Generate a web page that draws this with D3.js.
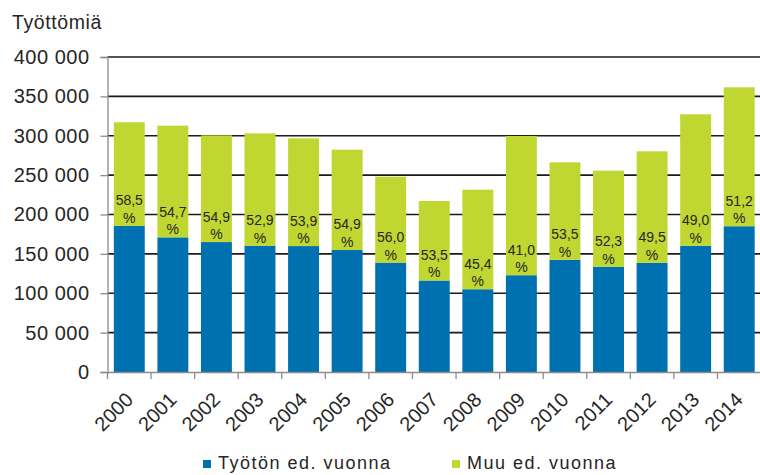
<!DOCTYPE html>
<html>
<head>
<meta charset="utf-8">
<script src="https://cdn.jsdelivr.net/npm/d3@7"></script>
<style>
  html, body { margin: 0; padding: 0; background: #ffffff; }
  svg { display: block; font-family: "Liberation Sans", Arial, sans-serif; }
</style>
</head>
<body>
<svg id="chart" width="760" height="475"></svg>
<script>
const years = ["2000","2001","2002","2003","2004","2005","2006","2007","2008","2009","2010","2011","2012","2013","2014"];
const tyoton = [185500,171000,165000,160300,159900,155000,138900,116200,105100,122900,142400,133700,138700,160300,185100];
const muu = [131600,141800,135500,142800,136800,127300,109100,100900,126400,176800,123800,122000,141500,166900,176400];
const pctLabels = ["58,5","54,7","54,9","52,9","53,9","54,9","56,0","53,5","45,4","41,0","53,5","52,3","49,5","49,0","51,2"];
const yTicks = [0,50000,100000,150000,200000,250000,300000,350000,400000];
const seriesNames = ["Työtön ed. vuonna","Muu ed. vuonna"];
const colors = ["#0071b0","#bfd730"];
const yTitle = "Työttömiä";

const svg = d3.select("#chart");
const x = d3.scaleBand().domain(years).range([107.5, 761]).paddingInner(0.29).paddingOuter(0.145);
const y = d3.scaleLinear().domain([0, 400000]).range([372, 57]);
const fmt = v => d3.format(",")(v).replace(/,/g, " ");

// gridlines
svg.append("g").selectAll("line").data(yTicks.filter(t => t > 0)).join("line")
  .attr("x1", 107.5).attr("x2", 760)
  .attr("y1", d => y(d)).attr("y2", d => y(d))
  .attr("stroke", "#1a1a1a").attr("stroke-width", 1.7);

// y axis
const yAxis = svg.append("g").attr("transform", "translate(107.5,0)")
  .call(d3.axisLeft(y).tickValues(yTicks).tickFormat(fmt).tickSize(7).tickPadding(11));
yAxis.select(".domain").attr("stroke", "#8c8c8c").attr("stroke-width", 1.3);
yAxis.selectAll(".tick line").attr("stroke", "#8c8c8c").attr("stroke-width", 1.3);
yAxis.selectAll("text").attr("font-size", 20).attr("letter-spacing", 0.5)
  .attr("fill", "#262626").attr("font-family", "Liberation Sans, Arial, sans-serif");

// stacked bars
const stackData = years.map((yr, i) => ({year: yr, a: tyoton[i], b: muu[i]}));
const stack = d3.stack().keys(["a","b"])(stackData);
svg.append("g").selectAll("g").data(stack).join("g")
  .attr("fill", (d, i) => colors[i])
  .selectAll("rect").data(d => d).join("rect")
  .attr("x", d => x(d.data.year))
  .attr("width", x.bandwidth())
  .attr("y", d => y(d[1]))
  .attr("height", d => y(d[0]) - y(d[1]));

// x axis
const xAxis = svg.append("g").attr("transform", "translate(0,372)")
  .call(d3.axisBottom(x).tickSize(0).tickFormat(d => d));
xAxis.select(".domain").attr("stroke", "#8c8c8c").attr("stroke-width", 1.3);
xAxis.selectAll(".tick text")
  .attr("font-size", 20).attr("fill", "#262626")
  .attr("text-anchor", "end")
  .attr("transform", "translate(5,29) rotate(-45)")
  .attr("y", 0).attr("dy", 0);
// category boundary ticks
const bounds = years.map(yr => x(yr) - x.step() * x.paddingInner() / 2);
svg.append("g").selectAll("line").data(bounds.concat([x(years[years.length-1]) + x.bandwidth() + x.step()*x.paddingInner()/2]))
  .join("line")
  .attr("x1", d => d).attr("x2", d => d).attr("y1", 372).attr("y2", 379)
  .attr("stroke", "#8c8c8c").attr("stroke-width", 1.3);

// percentage labels
const lbl = svg.append("g").attr("fill", "#262626").attr("font-size", 14).attr("text-anchor", "middle");
years.forEach((yr, i) => {
  const cx = x(yr) + x.bandwidth() / 2;
  const by = y(tyoton[i]);
  lbl.append("text").attr("x", cx).attr("y", by - 20.5).text(pctLabels[i]);
  lbl.append("text").attr("x", cx).attr("y", by - 3).text("%");
});

// y title
svg.append("text").attr("x", 12).attr("y", 29).attr("font-size", 19.5).attr("letter-spacing", 0.6)
  .attr("fill", "#262626").text(yTitle);

// legend
const legX = [203, 452];
const leg = svg.append("g");
seriesNames.forEach((n, i) => {
  leg.append("rect").attr("x", legX[i]).attr("y", 460).attr("width", 8).attr("height", 8).attr("fill", colors[i]);
  leg.append("text").attr("x", legX[i] + 15).attr("y", 469).attr("font-size", 18)
    .attr("letter-spacing", 1.5).attr("fill", "#262626").text(n);
});
</script>
</body>
</html>
